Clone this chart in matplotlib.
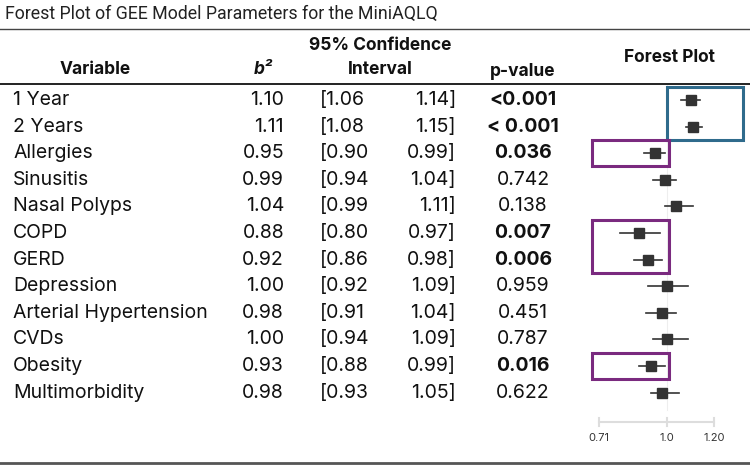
import matplotlib.pyplot as plt
from matplotlib.patches import Rectangle

variables = ["1 Year", "2 Years", "Allergies", "Sinusitis", "Nasal Polyps", "COPD", "GERD",
             "Depression", "Arterial Hypertension", "CVDs", "Obesity", "Multimorbidity"]
b2 = [1.10, 1.11, 0.95, 0.99, 1.04, 0.88, 0.92, 1.00, 0.98, 1.00, 0.93, 0.98]
ci_low = [1.06, 1.08, 0.90, 0.94, 0.99, 0.80, 0.86, 0.92, 0.91, 0.94, 0.88, 0.93]
ci_high = [1.14, 1.15, 0.99, 1.04, 1.11, 0.97, 0.98, 1.09, 1.04, 1.09, 0.99, 1.05]
p_values = ["<0.001", "< 0.001", "0.036", "0.742", "0.138", "0.007", "0.006",
            "0.959", "0.451", "0.787", "0.016", "0.622"]
p_bold = [True, True, True, False, False, True, True, False, False, False, True, False]
ticks = [0.71, 1.0, 1.20]
tick_labels = ["0.71", "1.0", "1.20"]

# highlighted groups: (first row, last row, colour)
boxes = [(0, 1, "#2f6b8c"), (2, 2, "#7a2a7f"), (5, 6, "#7a2a7f"), (10, 10, "#7a2a7f")]

W, H = 750, 468
fig = plt.figure(figsize=(W / 100, H / 100), dpi=100)
plt.rcParams['font.family'] = ['Inter', 'DejaVu Sans']

def px(x, y):
    return x / W, 1 - y / H

row_y0, row_dy = 100, 26.6
row_y = [row_y0 + i * row_dy for i in range(len(variables))]

# title and rules
fig.text(*px(5, 14), "Forest Plot of GEE Model Parameters for the MiniAQLQ",
         fontsize=12.8, va="center", ha="left", family=["Roboto", "DejaVu Sans"], color="#222")
for y, lw, c in [(29, 1.0, "#444"), (84, 1.4, "#222"), (463, 2.0, "#555")]:
    fig.add_artist(plt.Line2D([0, 1], [1 - y / H] * 2, color=c, lw=lw))

# header
hdr = dict(fontsize=12.5, fontweight="bold", va="center", ha="center", color="#111")
fig.text(*px(95, 70), "Variable", **hdr)
fig.text(*px(263, 70), "b²", style="italic", **hdr)
fig.text(*px(380, 45), "95% Confidence", **hdr)
fig.text(*px(380, 70), "Interval", **hdr)
fig.text(*px(523, 72), "p-value", **hdr)
fig.text(*px(670, 57), "Forest Plot", **hdr)

# table rows
body = dict(fontsize=14, va="center", color="#111")
for i, y in enumerate(row_y):
    fig.text(*px(13, y), variables[i], ha="left", **body)
    fig.text(*px(284, y), f"{b2[i]:.2f}", ha="right", **body)
    fig.text(*px(320, y), f"[{ci_low[i]:.2f}", ha="left", **body)
    fig.text(*px(456, y), f"{ci_high[i]:.2f}]", ha="right", **body)
    fig.text(*px(523, y), p_values[i], ha="center",
             fontweight="bold" if p_bold[i] else "normal", **body)

# forest plot axes
ax_l, ax_r, ax_t, ax_b = 585, 750, 84, 463
ax = fig.add_axes([ax_l / W, 1 - ax_b / H, (ax_r - ax_l) / W, (ax_b - ax_t) / H])
scale = 235.0
ax.set_xlim(1 - (667 - ax_l) / scale, 1 + (ax_r - 667) / scale)
ax.set_ylim(ax_b, ax_t)
ax.axis("off")

ax.axvline(1.0, ymin=(ax_b - 410) / (ax_b - ax_t), ymax=1, color="#eeeeee", lw=0.8, zorder=0)
for i, y in enumerate(row_y):
    ax.plot([ci_low[i], ci_high[i]], [y, y], color="#333", lw=1.2, zorder=2)
ax.plot(b2, row_y, "s", color="#333", ms=6.5, zorder=3)

# highlight boxes
pad = 13
for r0, r1, c in boxes:
    x0 = 0.68 if c != "#2f6b8c" else 1.0
    x1 = 1.01 if c != "#2f6b8c" else 1.325
    y0 = row_y[r0] - pad
    y1 = row_y[r1] + pad
    ax.add_patch(Rectangle((x0, y0), x1 - x0, y1 - y0, fill=False, ec=c, lw=2.2, zorder=4))

# bottom scale
axis_y = 422
ax.plot([ticks[0], ticks[-1]], [axis_y, axis_y], color="#dddddd", lw=1.5)
for t, lab in zip(ticks, tick_labels):
    ax.plot([t, t], [axis_y - 4, axis_y + 4], color="#dddddd", lw=1.5)
    ax.text(t, axis_y + 16, lab, ha="center", va="center", fontsize=8, color="#333")

fig.savefig("out.png", dpi=100)
